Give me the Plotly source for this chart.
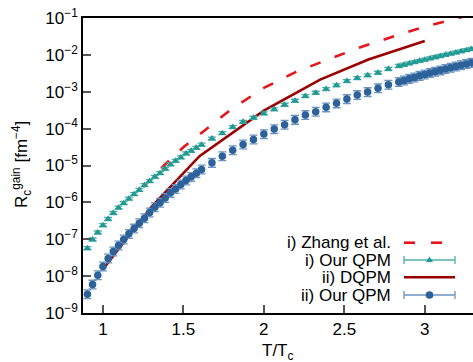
import plotly.graph_objects as go

# ---------------- data ----------------
T_C = 155.0  # MeV
T_MEV = [140, 145, 150, 155, 160, 165, 170, 175, 180, 185, 190, 195, 200, 205, 210, 215, 220, 225,
         230, 235, 240, 245, 250,
         260, 270, 280, 290, 300, 310, 320, 330, 340, 350, 360, 370, 380, 390, 400, 410, 420, 430, 440,
         445, 450, 455, 460, 465, 470, 475, 480, 485, 490, 495, 500, 505, 510]

# i) Our QPM (teal triangles)
R_QPM_I = [5.71e-8, 9.84e-8, 1.52e-7, 2.40e-7, 3.54e-7, 5.15e-7, 7.18e-7, 9.51e-7, 1.26e-6, 1.67e-6,
           2.18e-6, 2.93e-6, 3.76e-6, 4.92e-6, 6.21e-6, 8.11e-6, 1.07e-5, 1.34e-5, 1.66e-5, 2.12e-5,
           2.50e-5, 3.01e-5, 3.68e-5,
           5.36e-5, 7.55e-5, 1.10e-4, 1.53e-4, 1.97e-4, 2.59e-4, 3.33e-4, 4.44e-4, 5.69e-4, 7.64e-4,
           9.38e-4, 1.18e-3, 1.49e-3, 1.95e-3, 2.35e-3, 2.79e-3, 3.27e-3, 4.13e-3, 4.98e-3,
           5.40e-3, 5.86e-3, 6.35e-3, 6.89e-3, 7.43e-3, 8.00e-3, 8.63e-3, 9.31e-3, 1.00e-2, 1.08e-2,
           1.16e-2, 1.25e-2, 1.34e-2, 1.44e-2]

# ii) Our QPM (blue circles)
R_QPM_II = [3.22e-9, 5.90e-9, 1.06e-8, 1.82e-8, 3.00e-8, 4.65e-8, 6.76e-8, 9.84e-8, 1.40e-7, 1.95e-7,
            2.72e-7, 3.72e-7, 5.32e-7, 7.41e-7, 9.82e-7, 1.32e-6, 1.81e-6, 2.32e-6, 3.06e-6, 3.93e-6,
            4.92e-6, 6.21e-6, 7.82e-6,
            1.18e-5, 1.79e-5, 2.61e-5, 3.73e-5, 5.09e-5, 7.10e-5, 9.70e-5, 1.27e-4, 1.73e-4, 2.33e-4,
            2.86e-4, 3.77e-4, 4.84e-4, 6.32e-4, 8.13e-4, 9.79e-4, 1.24e-3, 1.55e-3, 1.83e-3,
            2.02e-3, 2.24e-3, 2.45e-3, 2.70e-3, 2.94e-3, 3.21e-3, 3.51e-3, 3.80e-3, 4.13e-3, 4.48e-3,
            4.85e-3, 5.24e-3, 5.65e-3, 6.08e-3]

# relative uncertainties (upper, lower)
ERR_I = (0.10, 0.09)
ERR_II = (0.31, 0.24)

# ii) DQPM (dark red line)
DQPM_T = [1.0, 1.3, 1.6, 2.0, 2.35, 2.65, 3.0]
DQPM_R = [1.54e-8, 7.41e-7, 1.79e-5, 3.08e-4, 2.14e-3, 7.48e-3, 2.38e-2]

# i) Zhang et al. (red dashed)
ZHANG_T = [1.25, 1.35, 1.5, 1.65, 1.8, 2.0, 2.2, 2.4, 2.6, 2.8, 3.0, 3.2, 3.4]
ZHANG_R = [2.59e-6, 7.59e-6, 3.13e-5, 1.05e-4, 3.41e-4, 1.27e-3, 3.44e-3, 7.52e-3, 1.61e-2,
           3.10e-2, 5.85e-2, 9.82e-2, 0.162]

X_TICKS = [1, 1.5, 2, 2.5, 3]
X_TICK_TEXT = ["1", "1.5", "2", "2.5", "3"]
Y_TICKS = [1e-9, 1e-8, 1e-7, 1e-6, 1e-5, 1e-4, 1e-3, 1e-2, 1e-1]
Y_TICK_TEXT = ["10<sup>−9</sup>", "10<sup>−8</sup>", "10<sup>−7</sup>", "10<sup>−6</sup>",
               "10<sup>−5</sup>", "10<sup>−4</sup>", "10<sup>−3</sup>", "10<sup>−2</sup>",
               "10<sup>−1</sup>"]

LEGEND_LABELS = ["i) Zhang et al.", "i) Our QPM", "ii) DQPM", "ii) Our QPM"]

# ---------------- style ----------------
W, H = 473, 362
ML, MR, MT, MB = 83, 0, 18, 49
FONT = "Liberation Sans, Arial, sans-serif"
FS = 17
RED = "#e8141c"
DARKRED = "#9b0000"
TEAL = "#219a94"
TEAL_ERR = "#4fb0aa"
BLUE = "#2c6199"
BLUE_ERR = "#6a93c2"

x_i = [t / T_C for t in T_MEV]

fig = go.Figure()

fig.add_trace(go.Scatter(x=ZHANG_T, y=ZHANG_R, mode="lines",
                         line=dict(color=RED, width=2.6, dash="11px,15px"), showlegend=False))
fig.add_trace(go.Scatter(x=DQPM_T, y=DQPM_R, mode="lines",
                         line=dict(color=DARKRED, width=2.6), showlegend=False))
fig.add_trace(go.Scatter(
    x=x_i, y=R_QPM_I, mode="markers",
    marker=dict(symbol="triangle-up", size=7, color=TEAL),
    error_y=dict(type="data", symmetric=False,
                 array=[v * ERR_I[0] for v in R_QPM_I],
                 arrayminus=[v * ERR_I[1] for v in R_QPM_I],
                 color=TEAL_ERR, thickness=1.3, width=4),
    showlegend=False))
fig.add_trace(go.Scatter(
    x=x_i, y=R_QPM_II, mode="markers",
    marker=dict(symbol="circle", size=7.5, color=BLUE),
    error_y=dict(type="data", symmetric=False,
                 array=[v * ERR_II[0] for v in R_QPM_II],
                 arrayminus=[v * ERR_II[1] for v in R_QPM_II],
                 color=BLUE_ERR, thickness=1.3, width=4),
    showlegend=False))

# ---------------- custom legend (text right, sample left) ----------------
PW, PH = W - ML - MR, H - MT - MB


def px2x(px):
    return (px - ML) / PW


def px2y(py):
    return (H - MB - py) / PH


leg_y = [242.7, 260.0, 277.3, 295.0]
text_right = 393.0
s0, s1, smid = 404.0, 455.0, 429.5

shapes = []
annotations = []
for lbl, yy in zip(LEGEND_LABELS, leg_y):
    annotations.append(dict(text=lbl, x=px2x(text_right), y=px2y(yy), xref="paper", yref="paper",
                            xanchor="right", yanchor="middle", showarrow=False,
                            font=dict(family=FONT, size=FS, color="black")))

# Zhang: two dashes
for a, b in [(404, 415), (431, 442)]:
    shapes.append(dict(type="line", xref="paper", yref="paper", x0=px2x(a), x1=px2x(b),
                       y0=px2y(leg_y[0]), y1=px2y(leg_y[0]), line=dict(color=RED, width=2.6)))
# DQPM: solid
shapes.append(dict(type="line", xref="paper", yref="paper", x0=px2x(s0), x1=px2x(s1),
                   y0=px2y(leg_y[2]), y1=px2y(leg_y[2]), line=dict(color=DARKRED, width=2.6)))
# error-bar style samples
for yy, col in [(leg_y[1], TEAL_ERR), (leg_y[3], BLUE_ERR)]:
    shapes.append(dict(type="line", xref="paper", yref="paper", x0=px2x(s0), x1=px2x(s1),
                       y0=px2y(yy), y1=px2y(yy), line=dict(color=col, width=1.3)))
    for xx in (s0, s1):
        shapes.append(dict(type="line", xref="paper", yref="paper", x0=px2x(xx), x1=px2x(xx),
                           y0=px2y(yy - 4), y1=px2y(yy + 4), line=dict(color=col, width=1.3)))
# triangle marker
shapes.append(dict(type="path", xref="paper", yref="paper", xsizemode="pixel", ysizemode="pixel",
                   xanchor=px2x(smid), yanchor=px2y(leg_y[1]),
                   path="M -3.5,-2 L 3.5,-2 L 0,3.5 Z", fillcolor=TEAL, line=dict(width=0)))
# circle marker
shapes.append(dict(type="circle", xref="paper", yref="paper", xsizemode="pixel", ysizemode="pixel",
                   xanchor=px2x(smid), yanchor=px2y(leg_y[3]),
                   x0=-3.8, x1=3.8, y0=-3.8, y1=3.8, fillcolor=BLUE, line=dict(width=0)))

# axis titles as annotations for exact placement
annotations.append(dict(text="T/T<sub>c</sub>", x=px2x(278), y=px2y(352), xref="paper", yref="paper",
                        xanchor="center", yanchor="middle", showarrow=False,
                        font=dict(family=FONT, size=FS, color="black")))
annotations.append(dict(text="R<sub>c</sub><sup>gain</sup> [fm<sup>−4</sup>]", x=px2x(21),
                        y=px2y(165), xref="paper", yref="paper", textangle=-90,
                        xanchor="center", yanchor="middle", showarrow=False,
                        font=dict(family=FONT, size=FS, color="black")))

fig.update_layout(
    width=W, height=H,
    margin=dict(l=ML, r=MR, t=MT, b=MB, autoexpand=False),
    paper_bgcolor="white", plot_bgcolor="white",
    font=dict(family=FONT, size=FS, color="black"),
    showlegend=False,
    shapes=shapes, annotations=annotations,
    xaxis=dict(range=[0.876, 3.30], tickvals=X_TICKS, ticktext=X_TICK_TEXT,
               ticks="inside", ticklen=8, tickwidth=1.5, tickcolor="#555555",
               showline=True, linecolor="black", linewidth=1.6, mirror=True,
               showgrid=False, zeroline=False, automargin=False),
    yaxis=dict(type="log", range=[-9, -1], tickvals=Y_TICKS, ticktext=Y_TICK_TEXT,
               ticks="inside", ticklen=8, tickwidth=1.5, tickcolor="#555555",
               showline=True, linecolor="black", linewidth=1.6,
               showgrid=False, zeroline=False, automargin=False),
)

fig.write_html("out.html", config={"displayModeBar": False},
               post_script="document.body.style.margin='0px';")
